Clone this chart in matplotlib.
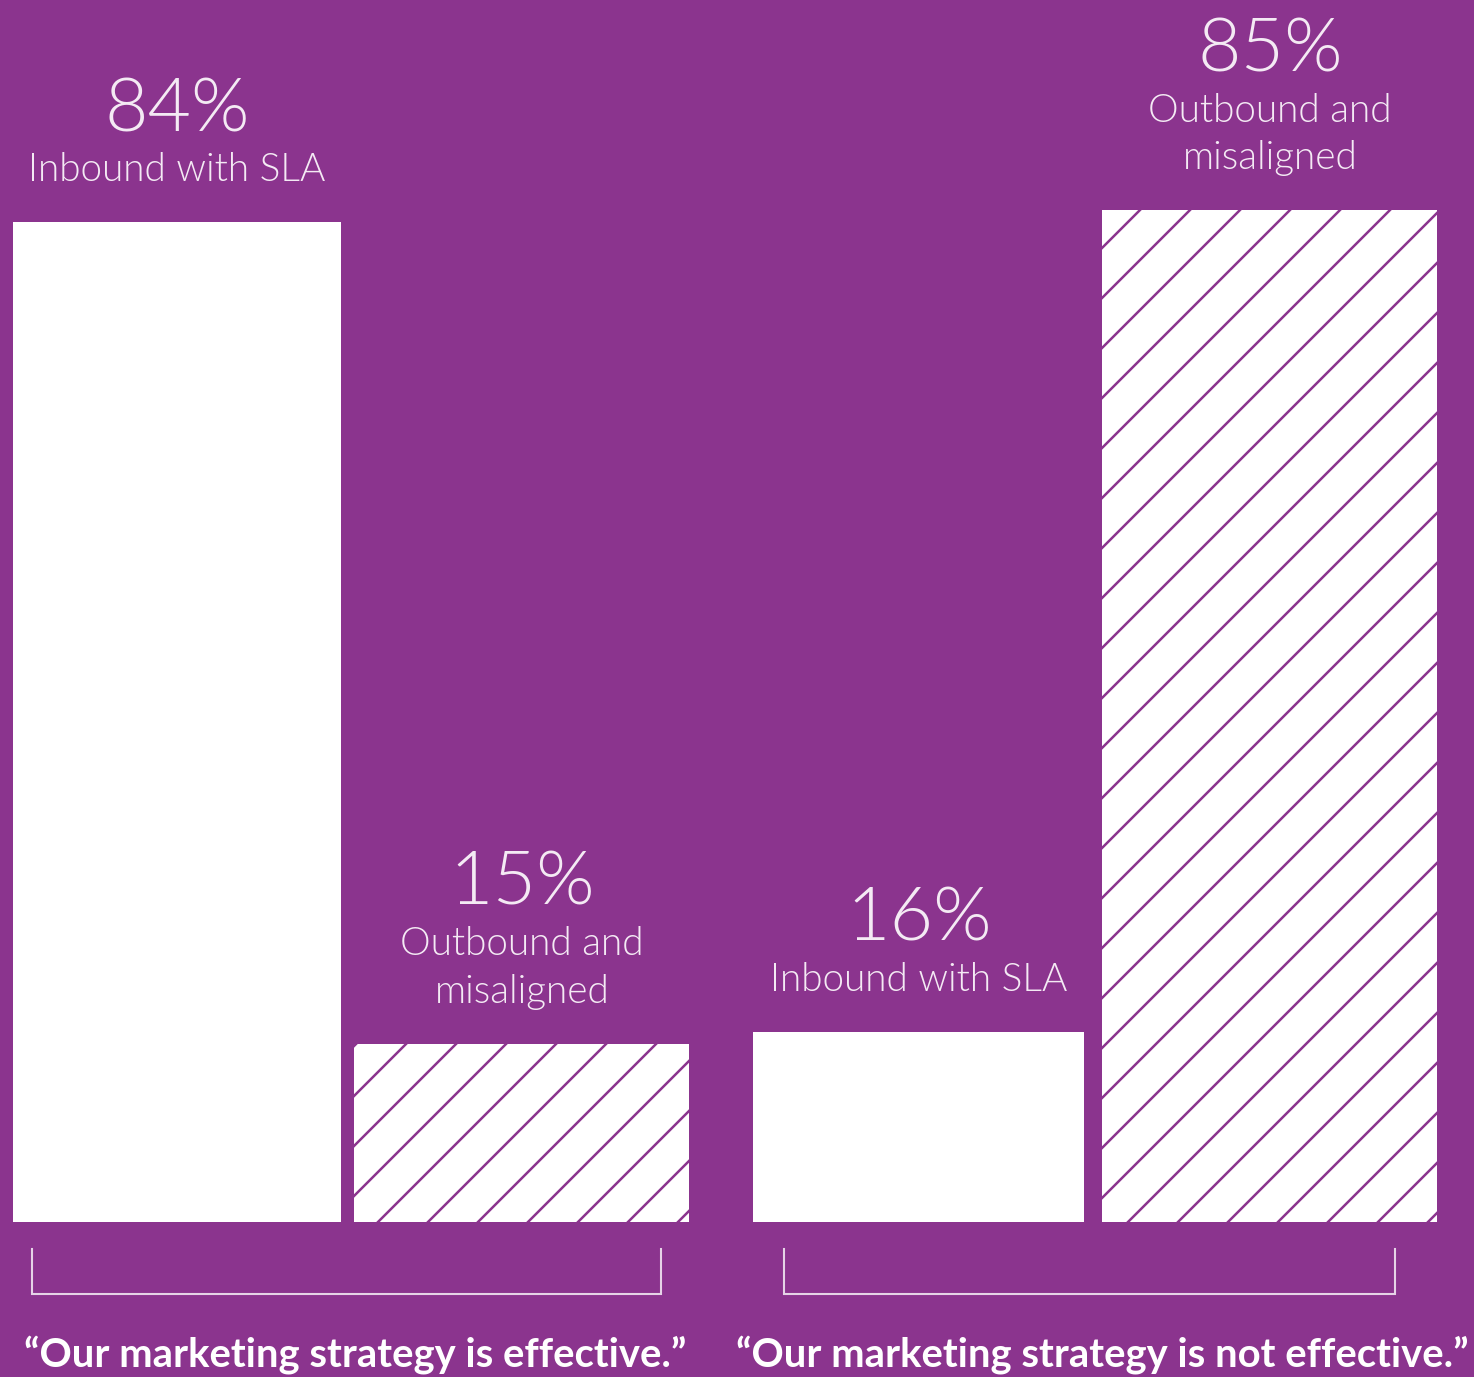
import matplotlib
matplotlib.use('Agg')
import matplotlib.pyplot as plt

# data
groups = ['\u201cOur marketing strategy is effective.\u201d',
          '\u201cOur marketing strategy is not effective.\u201d']
categories = ['Inbound with SLA', 'Outbound and\nmisaligned',
              'Inbound with SLA', 'Outbound and\nmisaligned']
values = [84, 15, 16, 85]
hatched = [False, True, False, True]

# layout (x in pixel units of the canvas)
bar_x = [177, 522, 919, 1270]
bar_w = [328, 335, 331, 335]
bracket_x = [(32, 661), (784, 1395)]
group_x = [355, 1102]

purple = '#8B348E'
light = '#F4EAF4'

W, H, DPI = 1474, 1377, 300
plt.rcParams['hatch.linewidth'] = 0.6

fig = plt.figure(figsize=(W / DPI, H / DPI), dpi=DPI, facecolor=purple)
ax = fig.add_axes([0, 0, 1, 1])
ax.set_facecolor(purple)
ax.axis('off')

scale = 11.9  # px per percent
base_px = 155
ax.set_xlim(0, W)
ax.set_ylim(-base_px / scale, (H - base_px) / scale)

bars = ax.bar(bar_x, values, width=bar_w, color='white', edgecolor=purple,
              linewidth=0)
for b, h in zip(bars, hatched):
    if h:
        b.set_hatch('//')

fam = ['Lato', 'DejaVu Sans']

for x, v, cat in zip(bar_x, values, categories):
    n_lines = cat.count('\n') + 1
    # sub label sits just above the bar
    ax.annotate(cat, xy=(x, v), xytext=(0, 34), textcoords='offset pixels',
                ha='center', va='bottom', fontsize=9.3, linespacing=1.38,
                family=fam, fontweight=300, color=light)
    pct_off = 34 + 48 * n_lines - 4
    ax.annotate(f'{v}%', xy=(x, v), xytext=(0, pct_off), textcoords='offset pixels',
                ha='center', va='bottom', fontsize=18, family=fam,
                fontweight=300, color=light)

tr = ax.get_xaxis_transform()
y_top = (H - 1249) / H
y_bot = (H - 1294) / H
for x0, x1 in bracket_x:
    ax.plot([x0, x0, x1, x1], [y_top, y_bot, y_bot, y_top], transform=tr,
            color='#E6D3E7', linewidth=0.5, solid_joinstyle='miter')

for gx, g in zip(group_x, groups):
    ax.text(gx, (H - 1355) / H, g, transform=tr, ha='center', va='center',
            fontsize=9.6, fontweight='bold', color='white', family=fam)

fig.savefig('out.png', dpi=DPI, facecolor=purple)
